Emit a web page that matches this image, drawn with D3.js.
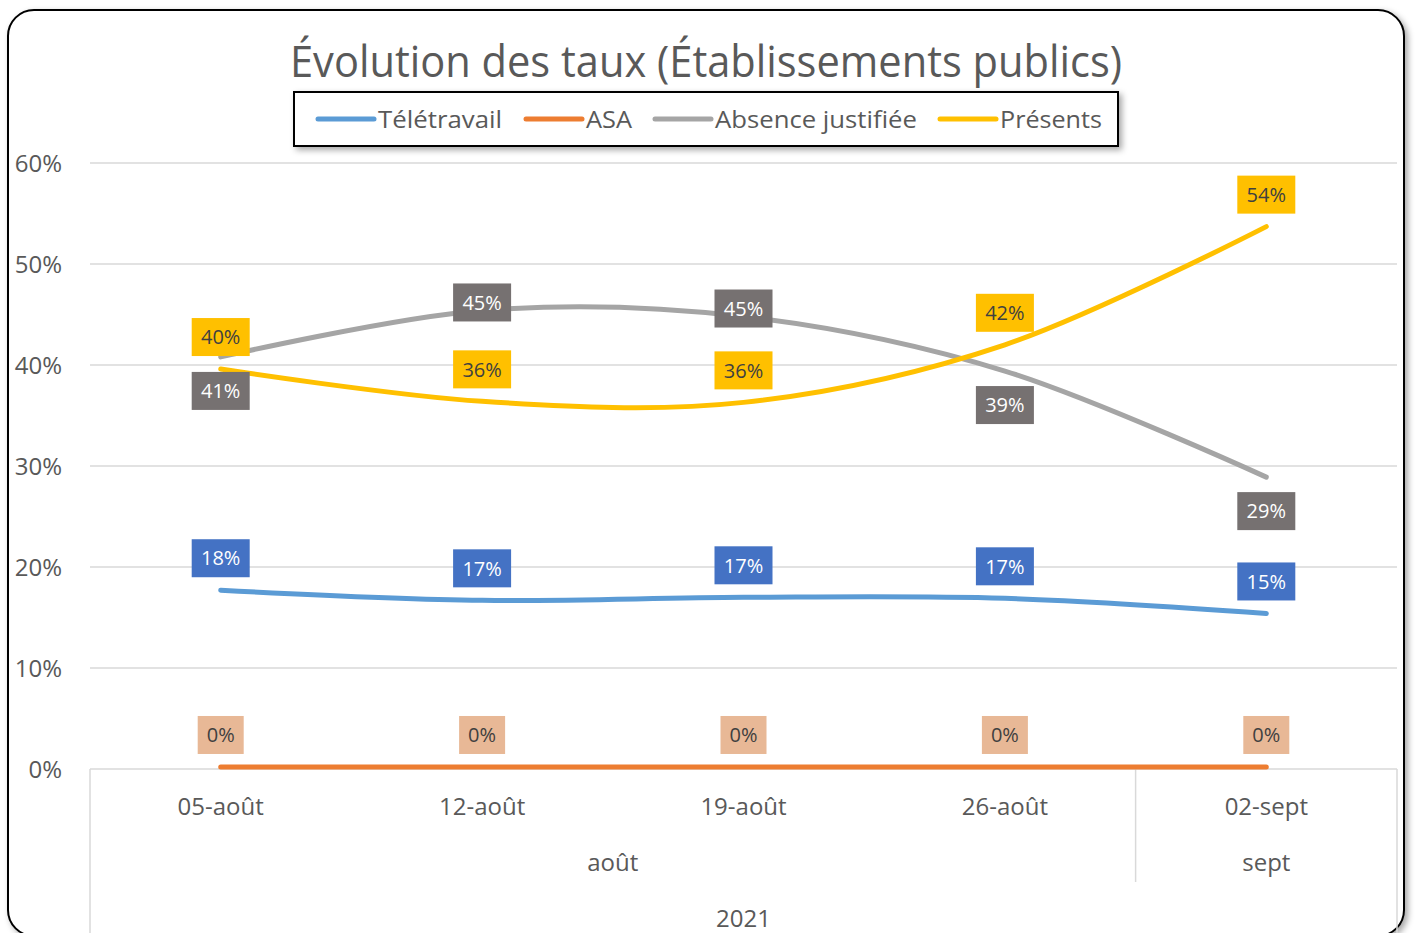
<!DOCTYPE html>
<html>
<head>
<meta charset="utf-8">
<script src="https://cdn.jsdelivr.net/npm/d3@7"></script>
<style>
  body { margin: 0; background: #fff; }
  text { font-family: "Open Sans", "Noto Sans", sans-serif; }
</style>
</head>
<body>
<div id="chart"></div>
<script>
// category axis (3 levels like Excel)
const dates = ["05-août", "12-août", "19-août", "26-août", "02-sept"];
const months = [{name: "août", from: 0, to: 3}, {name: "sept", from: 4, to: 4}];
const year = "2021";
const yTicks = [0, 0.1, 0.2, 0.3, 0.4, 0.5, 0.6];

const seriesNames = ["Télétravail", "ASA", "Absence justifiée", "Présents"];
const teletravail = [0.177, 0.167, 0.170, 0.169, 0.154];
const asa = [0.002, 0.002, 0.002, 0.002, 0.002];
const absence = [0.408, 0.454, 0.448, 0.394, 0.289];
const presents = [0.396, 0.364, 0.363, 0.420, 0.537];
// where each data label sits relative to its point
const labelPlace = {
  "Télétravail": ["above", "above", "above", "above", "above"],
  "ASA": ["above", "above", "above", "above", "above"],
  "Absence justifiée": ["below", "on", "on", "below", "below"],
  "Présents": ["above", "above", "above", "above", "above"]
};

const lineColors = ["#5B9BD5", "#ED7D31", "#A5A5A5", "#FFC000"];
const labelFill = ["#4472C4", "#E8B896", "#767171", "#FFC000"];
const labelText = ["#FFFFFF", "#404040", "#FFFFFF", "#404040"];
const allValues = [teletravail, asa, absence, presents];

const W = 1416, H = 933;
const svg = d3.select("#chart").append("svg").attr("width", W).attr("height", H);

const defs = svg.append("defs");
const sh = defs.append("filter").attr("id", "shadow").attr("x", "-5%").attr("y", "-20%").attr("width", "115%").attr("height", "160%");
sh.append("feDropShadow").attr("dx", 3).attr("dy", 3).attr("stdDeviation", 3).attr("flood-color", "#000").attr("flood-opacity", 0.35);

// chart frame
svg.append("rect")
  .attr("x", 8).attr("y", 10).attr("width", 1396).attr("height", 926)
  .attr("rx", 26).attr("ry", 26)
  .attr("fill", "#fff").attr("stroke", "#000").attr("stroke-width", 2)
  .attr("filter", "url(#shadow)");

const x = d3.scaleBand().domain(dates).range([90, 1397]);
const y = d3.scaleLinear().domain([0, 0.6]).range([769, 163]);
const cx = d => x(d) + x.bandwidth() / 2;

// gridlines
svg.append("g").selectAll("line").data(yTicks.slice(1)).join("line")
  .attr("x1", 90).attr("x2", 1397)
  .attr("y1", d => y(d)).attr("y2", d => y(d))
  .attr("stroke", "#D9D9D9").attr("stroke-width", 1.5);

// y axis labels
const yAxis = svg.append("g").attr("transform", "translate(62,0)")
  .call(d3.axisLeft(y).tickValues(yTicks).tickFormat(d3.format(".0%")).tickSize(0).tickPadding(0));
yAxis.select(".domain").remove();
yAxis.selectAll("text").attr("font-size", 24).attr("fill", "#595959")
  .attr("font-family", "Open Sans, sans-serif").attr("dy", "0.35em");

// x axis multi-level
svg.append("line").attr("x1", 90).attr("x2", 1397).attr("y1", 769).attr("y2", 769)
  .attr("stroke", "#D9D9D9").attr("stroke-width", 1.5);
const sepX = [90, x(dates[4]), 1397];
svg.append("g").selectAll("line").data(sepX).join("line")
  .attr("x1", d => d).attr("x2", d => d)
  .attr("y1", 769).attr("y2", (d, i) => i === 1 ? 882 : 936)
  .attr("stroke", "#D9D9D9").attr("stroke-width", 1.5);

svg.append("g").selectAll("text").data(dates).join("text")
  .attr("x", d => cx(d)).attr("y", 815)
  .attr("text-anchor", "middle").attr("font-size", 24).attr("fill", "#595959")
  .text(d => d);
svg.append("g").selectAll("text").data(months).join("text")
  .attr("x", d => (x(dates[d.from]) + x(dates[d.to]) + x.bandwidth()) / 2).attr("y", 871)
  .attr("text-anchor", "middle").attr("font-size", 24).attr("fill", "#595959")
  .text(d => d.name);
svg.append("text").attr("x", (90 + 1397) / 2).attr("y", 927)
  .attr("text-anchor", "middle").attr("font-size", 24).attr("fill", "#595959")
  .text(year);

// lines
const line = d3.line().x((d, i) => cx(dates[i])).y(d => y(d)).curve(d3.curveCardinal.tension(0));
svg.append("g").selectAll("path").data(allValues).join("path")
  .attr("d", d => line(d))
  .attr("fill", "none")
  .attr("stroke", (d, i) => lineColors[i])
  .attr("stroke-width", 5)
  .attr("stroke-linecap", "round");

// data labels
const offs = {above: -32, below: 34, on: -8};
seriesNames.forEach((name, s) => {
  const g = svg.append("g");
  allValues[s].forEach((v, i) => {
    const lx = cx(dates[i]);
    const ly = y(v) + offs[labelPlace[name][i]];
    const txt = d3.format(".0%")(v);
    const bw = txt.length > 2 ? 58 : 46;
    g.append("rect")
      .attr("x", lx - bw / 2).attr("y", ly - 19).attr("width", bw).attr("height", 38)
      .attr("fill", labelFill[s]);
    g.append("text")
      .attr("x", lx).attr("y", ly).attr("dy", "0.36em")
      .attr("text-anchor", "middle").attr("font-size", 20)
      .attr("fill", labelText[s]).text(txt);
  });
});

// title
svg.append("text").attr("x", 706).attr("y", 77)
  .attr("text-anchor", "middle").attr("font-size", 44).attr("fill", "#595959")
  .attr("textLength", 832).attr("lengthAdjust", "spacingAndGlyphs")
  .text("Évolution des taux (Établissements publics)");

// legend
const leg = svg.append("g");
leg.append("rect").attr("x", 294).attr("y", 92).attr("width", 824).attr("height", 54)
  .attr("fill", "#fff").attr("stroke", "#000").attr("stroke-width", 2)
  .attr("filter", "url(#shadow)");
const legX = [318, 526, 655, 940];
const legW = [124, 46, 202, 102];
seriesNames.forEach((name, i) => {
  leg.append("line").attr("x1", legX[i]).attr("x2", legX[i] + 56)
    .attr("y1", 119).attr("y2", 119)
    .attr("stroke", lineColors[i]).attr("stroke-width", 5).attr("stroke-linecap", "round");
  leg.append("text").attr("x", legX[i] + 60).attr("y", 128)
    .attr("font-size", 24).attr("fill", "#595959")
    .attr("textLength", legW[i]).attr("lengthAdjust", "spacingAndGlyphs")
    .text(name);
});
</script>
</body>
</html>
